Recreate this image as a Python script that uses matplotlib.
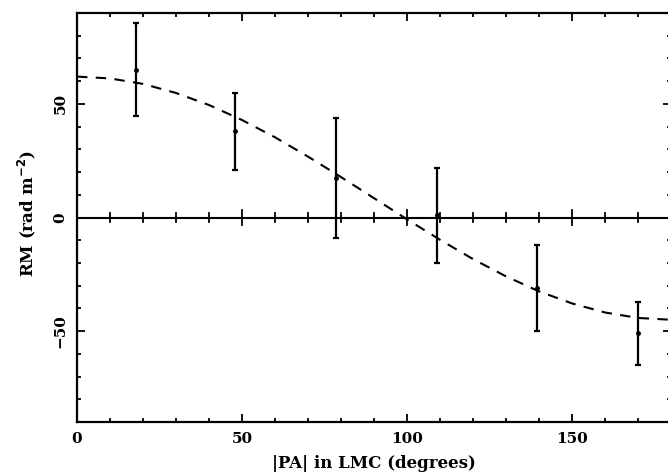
import matplotlib
matplotlib.use("Agg")
import matplotlib.pyplot as plt
from matplotlib.ticker import MultipleLocator

# measured RM against |PA| in the LMC
pa = [18, 48, 78.5, 109, 139.5, 170]
rm = [65, 38, 17.5, 1, -31, -51]
rm_err = [20.5, 17, 26.5, 21, 19, 14]

# dashed fit curve, read every 10 degrees
fit_pa = [0, 10, 20, 30, 40, 50, 60, 70, 80, 90, 100, 110, 120, 130, 140, 150, 160, 170, 180]
fit_rm = [62.0, 61.2, 58.8, 54.8, 49.5, 42.9, 35.3, 26.8, 17.8, 8.5, -0.8, -9.8, -18.3,
          -25.9, -32.5, -37.8, -41.8, -44.2, -45.0]

plt.rcParams['font.family'] = ['DejaVu Serif']
plt.rcParams['font.weight'] = 'bold'

fig = plt.figure(figsize=(6.68, 4.76), dpi=100)
ax = fig.add_axes([0.1153, 0.1134, 0.8892, 0.8593])

ax.plot(fit_pa, fit_rm, color='black', linestyle=(0, (5, 4)), linewidth=1.5)
ax.errorbar(pa, rm, yerr=rm_err, fmt='o', color='black', markersize=2.5,
            elinewidth=1.6, capsize=2.2, capthick=1.6)

# zero line with its own tick marks
ax.axhline(0, color='black', linewidth=1.5)
for x in range(10, 180, 10):
    h = 1.8 if x % 50 else 3.5
    ax.plot([x, x], [-h, h], color='black', linewidth=1.3)

ax.set_xlim(0, 180)
ax.set_ylim(-90, 90)
ax.xaxis.set_major_locator(MultipleLocator(50))
ax.xaxis.set_minor_locator(MultipleLocator(10))
ax.yaxis.set_major_locator(MultipleLocator(50))
ax.yaxis.set_minor_locator(MultipleLocator(10))
ax.tick_params(which='both', direction='in', top=True, right=True, width=1.3,
               labelsize=11)
ax.tick_params(which='major', length=5.8)
ax.tick_params(which='minor', length=2.9)
ax.tick_params(axis='x', which='major', pad=7)
ax.tick_params(axis='y', which='major', pad=7)
for lab in ax.get_yticklabels():
    lab.set_rotation(90)
    lab.set_va('center')
for s in ax.spines.values():
    s.set_linewidth(1.6)

ax.set_xlabel('|PA| in LMC (degrees)', fontsize=12, fontweight='bold', labelpad=7)
ax.set_ylabel('RM (rad m$^{\\mathbf{-2}}$)', fontsize=12, fontweight='bold')
ax.yaxis.set_label_coords(-0.066, 0.51)

fig.savefig('out.png', dpi=100)
